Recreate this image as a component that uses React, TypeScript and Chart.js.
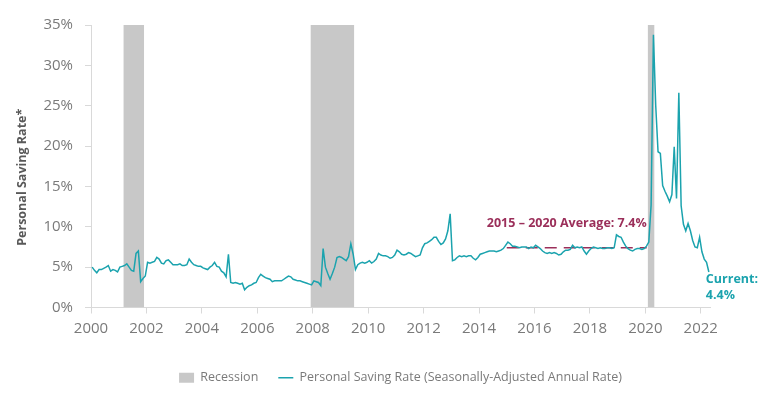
import React, { useEffect, useRef } from "react";
import { Chart, registerables } from "chart.js";

Chart.register(...registerables);

// ---------- DATA ----------
const startYear = 2000;
// Monthly personal saving rate (%), Jan 2000 – Apr 2022
const savingRate2000s: number[] = [
  // 2000
  5.0, 4.6, 4.3, 4.7, 4.7, 4.85, 5.0, 5.2, 4.5, 4.7, 4.6, 4.4,
  // 2001
  5.0, 5.1, 5.2, 5.4, 5.0, 4.6, 4.5, 6.7, 7.0, 3.2, 3.6, 3.9,
  // 2002
  5.6, 5.5, 5.6, 5.7, 6.2, 6.0, 5.5, 5.4, 5.8, 5.9, 5.6, 5.3,
  // 2003
  5.3, 5.3, 5.4, 5.2, 5.2, 5.3, 6.0, 5.6, 5.3, 5.2, 5.1, 5.1,
  // 2004
  4.9, 4.8, 4.7, 5.0, 5.2, 5.6, 5.1, 5.0, 4.5, 4.3, 3.8, 6.6,
  // 2005
  3.1, 3.0, 3.1, 3.0, 2.9, 3.0, 2.2, 2.5, 2.7, 2.8, 3.0, 3.1,
  // 2006
  3.7, 4.1, 3.9, 3.7, 3.6, 3.5, 3.2, 3.3, 3.3, 3.3, 3.3, 3.5,
  // 2007
  3.7, 3.9, 3.8, 3.5, 3.4, 3.3, 3.3, 3.2, 3.1, 3.0, 2.9, 2.8,
];
const savingRate2010s: number[] = [
  // 2008
  3.3, 3.2, 3.1, 2.7, 7.3, 5.0, 4.2, 3.5, 4.2, 5.0, 6.2, 6.3,
  // 2009
  6.2, 6.0, 5.8, 6.3, 7.9, 6.6, 4.7, 5.3, 5.5, 5.6, 5.5, 5.6,
  // 2010
  5.8, 5.5, 5.7, 6.0, 6.7, 6.5, 6.4, 6.4, 6.3, 6.1, 6.2, 6.5,
  // 2011
  7.1, 6.9, 6.6, 6.5, 6.6, 6.8, 6.7, 6.5, 6.3, 6.4, 6.5, 7.4,
  // 2012
  7.9, 8.0, 8.2, 8.4, 8.7, 8.7, 8.2, 7.8, 8.0, 8.5, 9.5, 11.6,
  // 2013
  5.8, 5.9, 6.2, 6.4, 6.3, 6.4, 6.3, 6.4, 6.4, 6.1, 5.9, 6.2,
  // 2014
  6.6, 6.7, 6.8, 6.9, 7.0, 7.0, 7.0, 6.9, 7.0, 7.1, 7.3, 7.7,
  // 2015
  8.1, 7.9, 7.6, 7.6, 7.5, 7.4, 7.5, 7.5, 7.5, 7.3, 7.5, 7.4,
];
const savingRate2020s: number[] = [
  // 2016
  7.7, 7.5, 7.3, 7.0, 6.8, 6.7, 6.8, 6.7, 6.8, 6.7, 6.5, 6.6,
  // 2017
  6.9, 7.1, 7.1, 7.2, 7.7, 7.4, 7.5, 7.4, 7.5, 7.0, 6.6, 7.0,
  // 2018
  7.3, 7.5, 7.4, 7.3, 7.4, 7.3, 7.3, 7.4, 7.4, 7.3, 7.4, 9.0,
  // 2019
  8.8, 8.7, 8.1, 7.6, 7.3, 7.1, 7.0, 7.2, 7.3, 7.3, 7.2, 7.3,
  // 2020
  7.6, 8.1, 12.7, 33.8, 25.0, 19.3, 19.1, 15.1, 14.4, 13.8, 13.1, 14.0,
  // 2021
  19.9, 13.5, 26.6, 12.6, 10.3, 9.5, 10.4, 9.5, 8.3, 7.5, 7.4, 8.7,
  // 2022
  6.9, 6.0, 5.6, 4.4,
];
const savingRate: number[] = [...savingRate2000s, ...savingRate2010s, ...savingRate2020s];

const recessionStarts: number[] = [2001.167, 2007.917, 2020.083];
const recessionEnds: number[] = [2001.917, 2009.5, 2020.333];

const xTickYears: number[] = [2000, 2002, 2004, 2006, 2008, 2010, 2012, 2014, 2016, 2018, 2020, 2022];
const yTickValues: number[] = [0, 5, 10, 15, 20, 25, 30, 35];

const averageStart = 2015;
const averageEnd = 2020.05;
const averageValue = 7.4;
const averageLabel = "2015 \u2013 2020 Average: 7.4%";
const currentLabel = ["Current:", "4.4%"];

const lineLabel = "Personal Saving Rate (Seasonally-Adjusted Annual Rate)";
const recessionLabel = "Recession";
const yTitle = "Personal Saving Rate*";

// ---------- STYLE ----------
const FONT = "'Open Sans', sans-serif";
const TEAL = "#1ba3ae";
const MAROON = "#9b2f5a";
const GRAY_BAR = "#c8c8c8";
const AXIS = "#d9d9d9";
const TICK_TEXT = "#7a7a7a";

const annotationPlugin = {
  id: "savingAnnotations",
  beforeDatasetsDraw(chart: any) {
    const { ctx, scales } = chart;
    const x = scales.x, y = scales.y;
    ctx.save();
    ctx.strokeStyle = MAROON;
    ctx.lineWidth = 1.5;
    ctx.setLineDash([12, 7]);
    ctx.beginPath();
    ctx.moveTo(x.getPixelForValue(averageStart), y.getPixelForValue(averageValue));
    ctx.lineTo(x.getPixelForValue(averageEnd), y.getPixelForValue(averageValue));
    ctx.stroke();
    ctx.restore();
  },
  afterDatasetsDraw(chart: any) {
    const { ctx, scales, chartArea } = chart;
    const x = scales.x, y = scales.y;
    ctx.save();
    ctx.textBaseline = "middle";
    // y-axis title
    ctx.save();
    ctx.translate(22, (chartArea.top + chartArea.bottom) / 2 + 11);
    ctx.rotate(-Math.PI / 2);
    ctx.textAlign = "center";
    ctx.font = `bold 12.5px ${FONT}`;
    ctx.fillStyle = "#595959";
    ctx.fillText(yTitle, 0, 0);
    ctx.restore();
    // average label
    ctx.font = `bold 12.5px ${FONT}`;
    ctx.fillStyle = MAROON;
    ctx.textAlign = "right";
    ctx.fillText(averageLabel, x.getPixelForValue(averageEnd), y.getPixelForValue(averageValue) - 24.5);
    // current label
    const last = savingRate.length - 1;
    const lx = x.getPixelForValue(startYear + (last + 0.5) / 12);
    const ly = y.getPixelForValue(savingRate[last]);
    ctx.fillStyle = TEAL;
    ctx.textAlign = "left";
    ctx.font = `bold 12.5px ${FONT}`;
    ctx.fillText(currentLabel[0], lx - 3, ly + 7);
    ctx.fillText(currentLabel[1], lx - 3, ly + 23);
    ctx.restore();
  },
};

export default function App() {
  const canvasRef = useRef<HTMLCanvasElement | null>(null);

  useEffect(() => {
    if (!canvasRef.current) return;
    const lineData = savingRate.map((v, i) => ({ x: startYear + (i + 0.5) / 12, y: v }));
    const recessionSets = recessionStarts.map((s, i) => ({
      type: "line" as const,
      label: recessionLabel,
      data: [
        { x: s, y: 35 },
        { x: recessionEnds[i], y: 35 },
      ],
      fill: "origin",
      backgroundColor: GRAY_BAR,
      borderColor: "rgba(0,0,0,0)",
      borderWidth: 0,
      pointRadius: 0,
      pointStyle: "rect",
      pointBackgroundColor: GRAY_BAR,
      pointBorderWidth: 0,
      order: 2,
    }));
    const chart = new Chart(canvasRef.current, {
      type: "line",
      data: {
        datasets: [
          ...recessionSets,
          {
            label: lineLabel,
            data: lineData,
            borderColor: TEAL,
            backgroundColor: TEAL,
            borderWidth: 1.5,
            pointRadius: 0,
            pointStyle: "line",
            pointBorderColor: TEAL,
            pointBorderWidth: 1.5,
            tension: 0,
            fill: false,
            order: 1,
          },
        ] as any,
      },
      options: {
        animation: false,
        responsive: true,
        maintainAspectRatio: false,
        layout: { padding: { top: 25, right: 52, bottom: 3, left: 0 } },
        plugins: {
          tooltip: { enabled: false },
          legend: {
            position: "bottom",
            fullSize: false,
            labels: {
              usePointStyle: true,
              pointStyleWidth: 15,
              boxHeight: 10,
              padding: 20,
              color: TICK_TEXT,
              font: { family: FONT, size: 12.5 },
              filter: (item: any) => item.datasetIndex === 0 || item.text === lineLabel,
              sort: (a: any, b: any) => a.datasetIndex - b.datasetIndex,
            },
          },
        },
        scales: {
          x: {
            type: "linear",
            min: startYear,
            max: 2022.333,
            afterBuildTicks: (axis: any) => {
              axis.ticks = xTickYears.map((v) => ({ value: v }));
            },
            afterFit: (s: any) => {
              s.height = 44;
            },
            ticks: {
              autoSkip: false,
              maxRotation: 0,
              padding: 6,
              color: TICK_TEXT,
              font: { family: FONT, size: 15 },
              callback: (v: any) => String(v),
            },
            grid: { display: true, drawOnChartArea: false, drawTicks: true, tickLength: 6, color: AXIS },
            border: { color: AXIS, width: 1 },
          },
          y: {
            min: 0,
            max: 35,
            afterBuildTicks: (axis: any) => {
              axis.ticks = yTickValues.map((v) => ({ value: v }));
            },
            afterFit: (s: any) => {
              s.width = 91;
            },
            ticks: {
              padding: 12,
              color: TICK_TEXT,
              font: { family: FONT, size: 15 },
              callback: (v: any) => `${v}%`,
            },
            grid: { display: true, drawOnChartArea: false, drawTicks: true, tickLength: 6, color: AXIS },
            border: { color: AXIS, width: 1 },
          },
        },
      },
      plugins: [annotationPlugin],
    } as any);
    return () => chart.destroy();
  }, []);

  return (
    <div style={{ position: "fixed", left: 0, top: 0, width: 762, height: 397, background: "#fff" }}>
      <canvas ref={canvasRef} />
    </div>
  );
}
